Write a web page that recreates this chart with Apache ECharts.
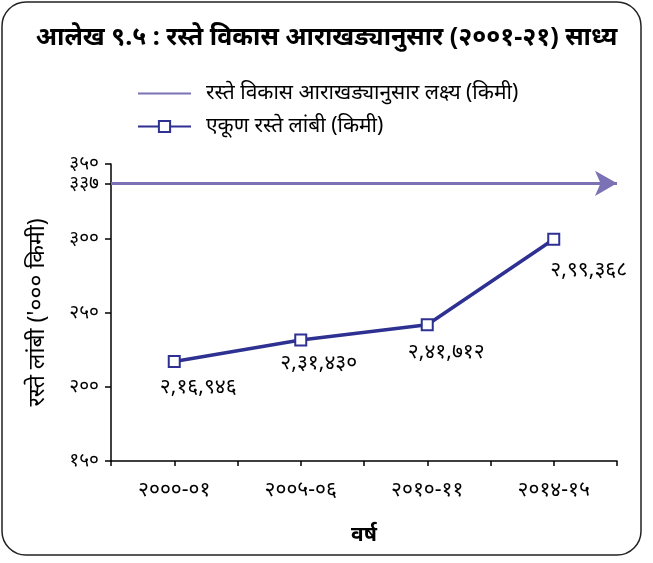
<!DOCTYPE html>
<html>
<head>
<meta charset="utf-8">
<script src="https://cdn.jsdelivr.net/npm/echarts@6/dist/echarts.min.js"></script>
<style>
  html, body { margin: 0; padding: 0; background: #fff; }
  #main { width: 653px; height: 563px; }
</style>
</head>
<body>
<div id="main"></div>
<script>
// data
var titleText = 'आलेख ९.५ : रस्ते विकास आराखड्यानुसार (२००१-२१) साध्य';
var years = ['२०००-०१', '२००५-०६', '२०१०-११', '२०१४-१५'];
var roadLength = [216946, 231430, 241712, 299368]; // किमी
var target = 337; // '000 किमी
var yTicks = [150, 200, 250, 300, 337, 350];
var targetName = 'रस्ते विकास आराखड्यानुसार लक्ष्य (किमी)';
var lengthName = 'एकूण रस्ते लांबी (किमी)';
var labelOffsets = [[24, 0], [18, -2], [19, 2], [35, 6]];

var devDigits = ['०', '१', '२', '३', '४', '५', '६', '७', '८', '९'];
function toDev(s) {
    return String(s).replace(/[0-9]/g, function (d) { return devDigits[+d]; });
}
// भारतीय शैलीको comma (२,१६,९४६)
function indianFmt(n) {
    var s = String(n);
    var last3 = s.slice(-3);
    var rest = s.slice(0, -3);
    if (rest) {
        rest = rest.replace(/\B(?=(\d{2})+(?!\d))/g, ',');
        return rest + ',' + last3;
    }
    return last3;
}

var font = "'Noto Sans', 'Noto Sans Devanagari', sans-serif";
var blue = '#2e3192';
var purple = '#7a72b4';

var myChart = echarts.init(document.getElementById('main'));

var option = {
    animation: false,
    backgroundColor: '#fff',
    textStyle: { fontFamily: font },
    title: {
        text: titleText,
        left: 'center',
        top: 20,
        textStyle: { fontSize: 25, fontWeight: 'bold', color: '#000', fontFamily: font }
    },
    graphic: [{
        type: 'rect',
        shape: { x: 2, y: 2, width: 639, height: 553, r: 24 },
        style: { fill: 'none', stroke: '#222', lineWidth: 1.5 },
        silent: true
    }],
    legend: {
        orient: 'vertical',
        left: 132,
        top: 78,
        itemWidth: 53,
        itemHeight: 14,
        itemGap: 12,
        data: [
            { name: targetName, itemStyle: { opacity: 0 } },
            lengthName
        ],
        textStyle: { fontSize: 21, color: '#000', padding: [0, 0, 0, 10], fontFamily: font }
    },
    grid: {
        left: 111,
        right: 36,
        top: 164,
        bottom: 102
    },
    xAxis: [{
        type: 'category',
        data: years,
        boundaryGap: true,
        axisLine: { lineStyle: { color: '#000', width: 1.5 } },
        axisTick: { show: true, length: 5, lineStyle: { color: '#000', width: 1.5 } },
        axisLabel: { color: '#000', fontSize: 21, margin: 19, fontFamily: font },
        name: 'वर्ष',
        nameLocation: 'middle',
        nameGap: 64,
        nameTextStyle: { fontSize: 21, fontWeight: 'bold', color: '#000', fontFamily: font }
    }, {
        // बीचका tick मात्र
        type: 'category',
        data: years,
        position: 'bottom',
        axisLine: { show: false },
        axisTick: { show: true, alignWithLabel: true, length: 5, lineStyle: { color: '#000', width: 1.5 } },
        axisLabel: { show: false }
    }],
    yAxis: {
        type: 'value',
        min: 150,
        max: 350,
        axisLine: { show: true, lineStyle: { color: '#000', width: 1.5 } },
        axisTick: { show: true, length: 6, customValues: yTicks, lineStyle: { color: '#000', width: 1.5 } },
        axisLabel: {
            color: '#000', fontSize: 19, margin: 12, fontFamily: font,
            hideOverlap: false,
            customValues: yTicks,
            formatter: function (v) { return toDev(v); }
        },
        splitLine: { show: false },
        name: "रस्ते लांबी ('००० किमी)",
        nameLocation: 'middle',
        nameGap: 62,
        nameTextStyle: { fontSize: 23, color: '#000', fontFamily: font }
    },
    series: [{
        name: targetName,
        type: 'line',
        data: [],
        symbol: 'none',
        color: purple,
        lineStyle: { color: purple, width: 3 },
        markLine: {
            silent: true,
            symbol: ['none', 'arrow'],
            symbolSize: [19, 22],
            label: { show: false },
            lineStyle: { color: purple, width: 3, type: 'solid' },
            data: [{ yAxis: target }]
        }
    }, {
        name: lengthName,
        type: 'line',
        color: blue,
        symbol: 'rect',
        symbolSize: 11,
        itemStyle: { color: '#fff', borderColor: blue, borderWidth: 2 },
        lineStyle: { color: blue, width: 3.5 },
        label: {
            show: true,
            position: 'bottom',
            distance: 8,
            color: '#000',
            fontSize: 21,
            fontFamily: font
        },
        data: roadLength.map(function (v, i) {
            return {
                value: v / 1000,
                label: {
                    offset: labelOffsets[i],
                    formatter: toDev(indianFmt(v))
                }
            };
        })
    }]
};

myChart.setOption(option);
</script>
</body>
</html>
